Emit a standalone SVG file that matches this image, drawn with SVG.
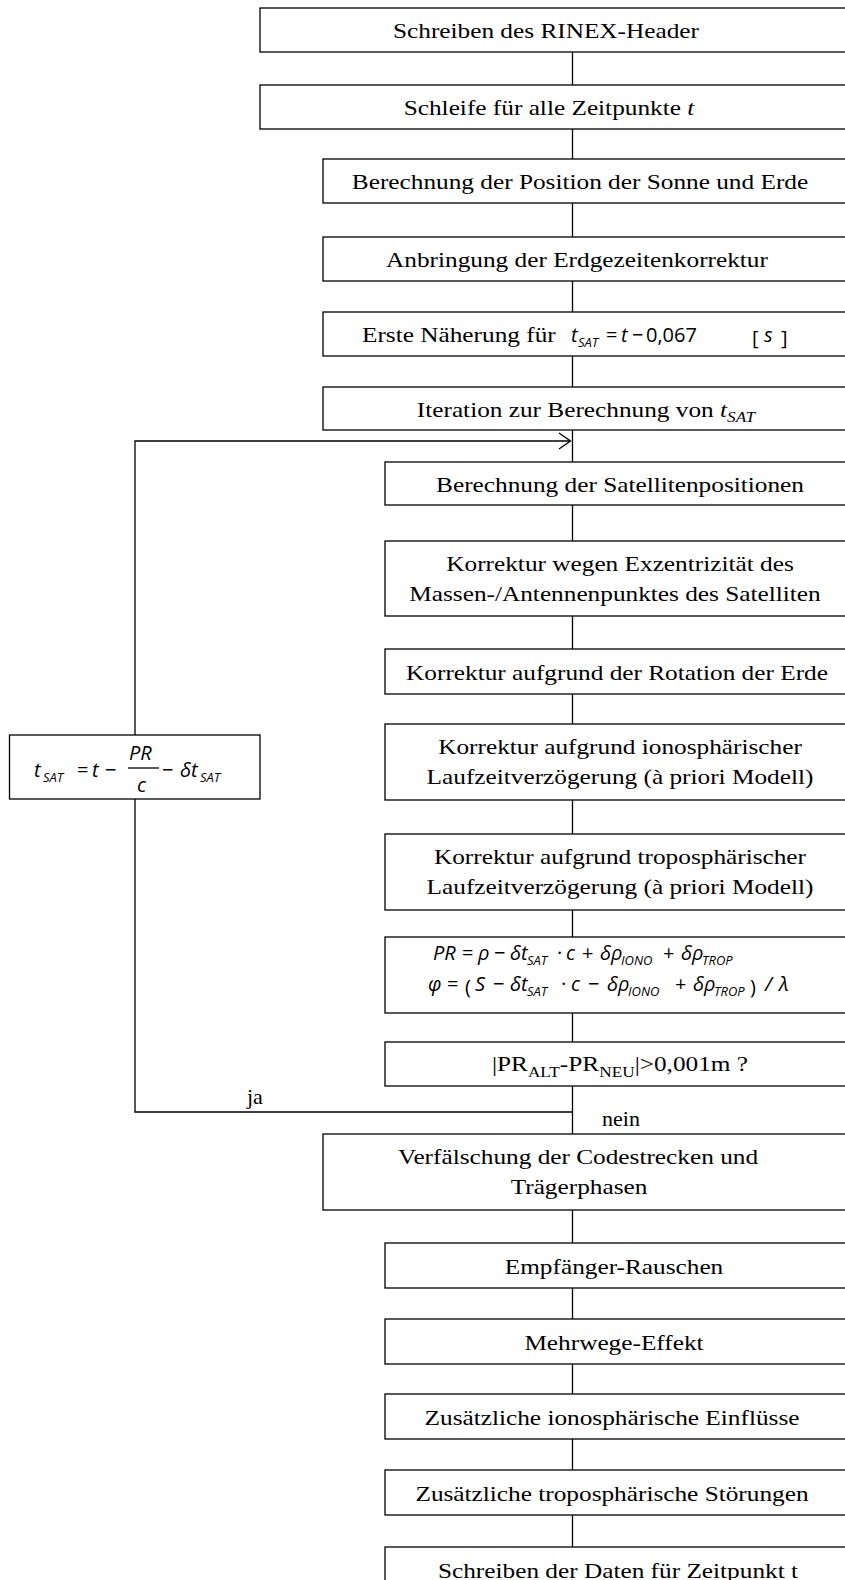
<svg xmlns="http://www.w3.org/2000/svg" width="845" height="1580" viewBox="0 0 845 1580">
  <style>
    .box { fill: #ffffff; stroke: #000000; stroke-width: 1.3; }
    .wire { fill: none; stroke: #000000; stroke-width: 1.3; }
    .lbl { font-family: "Liberation Serif", "Times New Roman", serif; font-size: 22px; fill: #000000; text-anchor: middle; }
    .lbl-s { font-family: "Liberation Serif", "Times New Roman", serif; font-size: 22px; fill: #000000; }
    .m { font-family: "Open Sans", "Noto Sans", "Liberation Sans", sans-serif; font-style: italic; font-size: 20px; fill: #000000; }
    .mu { font-family: "Open Sans", "Noto Sans", "Liberation Sans", sans-serif; font-size: 20px; fill: #000000; }
    .ms { font-family: "Open Sans", "Noto Sans", "Liberation Sans", sans-serif; font-style: italic; font-size: 13px; fill: #000000; }
  </style>

  <!-- connectors -->
  <g id="connectors">
    <path class="wire" d="M572.5,52V85 M572.5,129V159 M572.5,203V237 M572.5,281V312 M572.5,356V387 M572.5,430V462 M572.5,505V541 M572.5,616V649 M572.5,694V724 M572.5,800V834 M572.5,910V937 M572.5,1013V1042 M572.5,1086V1134 M572.5,1210V1243 M572.5,1288V1319 M572.5,1364V1394 M572.5,1439V1470 M572.5,1515V1547"/>
    <!-- iteration loop back ("ja") -->
    <path class="wire" d="M572.5,1112H135V799 M135,735V441H570"/>
    <polyline class="wire" points="559,433 570.5,441 559,449"/>
    <text class="lbl-s" x="247" y="1104">ja</text>
    <text class="lbl-s" x="602" y="1126">nein</text>
  </g>

  <g id="n01">
    <rect class="box" x="260" y="8" width="590" height="44"/>
    <text class="lbl" transform="translate(546,38) scale(1.15,1)">Schreiben des RINEX-Header</text>
  </g>
  <g id="n02">
    <rect class="box" x="260" y="85" width="590" height="44"/>
    <text class="lbl" transform="translate(549,115) scale(1.15,1)">Schleife für alle Zeitpunkte <tspan font-style="italic">t</tspan></text>
  </g>
  <g id="n03">
    <rect class="box" x="323" y="159" width="530" height="44"/>
    <text class="lbl" transform="translate(580,189) scale(1.15,1)">Berechnung der Position der Sonne und Erde</text>
  </g>
  <g id="n04">
    <rect class="box" x="323" y="237" width="530" height="44"/>
    <text class="lbl" transform="translate(577,267) scale(1.15,1)">Anbringung der Erdgezeitenkorrektur</text>
  </g>
  <g id="n05">
    <rect class="box" x="323" y="312" width="530" height="44"/>
    <text class="lbl-s" transform="translate(362,342) scale(1.15,1)">Erste Näherung für</text>
    <text class="m" x="571" y="342" font-size="21">t</text>
    <text class="ms" x="578" y="347">SAT</text>
    <text class="mu" x="606" y="342" font-size="21">=</text>
    <text class="m" x="621" y="342" font-size="21">t</text>
    <text class="mu" x="632" y="342" font-size="21">−</text>
    <text class="mu" x="646" y="342" font-size="21">0,067</text>
    <text class="mu" x="752" y="345" font-size="28">[</text>
    <text class="m" x="764" y="342" font-size="21">s</text>
    <text class="mu" x="781" y="345" font-size="28">]</text>
  </g>
  <g id="n06">
    <rect class="box" x="323" y="387" width="530" height="43"/>
    <text class="lbl" transform="translate(586,417) scale(1.15,1)">Iteration zur Berechnung von <tspan font-style="italic">t<tspan font-size="15" dy="5">SAT</tspan></tspan></text>
  </g>
  <g id="n07">
    <rect class="box" x="385" y="462" width="470" height="43"/>
    <text class="lbl" transform="translate(620,492) scale(1.15,1)">Berechnung der Satellitenpositionen</text>
  </g>
  <g id="n08">
    <rect class="box" x="385" y="541" width="470" height="75"/>
    <text class="lbl" transform="translate(620,571) scale(1.15,1)">Korrektur wegen Exzentrizität des</text>
    <text class="lbl" transform="translate(615,601) scale(1.15,1)">Massen-/Antennenpunktes des Satelliten</text>
  </g>
  <g id="n09">
    <rect class="box" x="385" y="649" width="470" height="45"/>
    <text class="lbl" transform="translate(617,680) scale(1.15,1)">Korrektur aufgrund der Rotation der Erde</text>
  </g>
  <g id="n10">
    <rect class="box" x="385" y="724" width="470" height="76"/>
    <text class="lbl" transform="translate(620,754) scale(1.15,1)">Korrektur aufgrund ionosphärischer</text>
    <text class="lbl" transform="translate(620,784) scale(1.15,1)">Laufzeitverzögerung (à priori Modell)</text>
  </g>
  <g id="n11">
    <rect class="box" x="385" y="834" width="470" height="76"/>
    <text class="lbl" transform="translate(620,864) scale(1.15,1)">Korrektur aufgrund troposphärischer</text>
    <text class="lbl" transform="translate(620,894) scale(1.15,1)">Laufzeitverzögerung (à priori Modell)</text>
  </g>
  <g id="n12">
    <rect class="box" x="385" y="937" width="470" height="76"/>
    <!-- PR = rho - dt_SAT c + drho_IONO + drho_TROP -->
    <text class="m" x="433" y="960">PR</text>
    <text class="mu" x="462" y="960">=</text>
    <text class="m" x="478" y="960">ρ</text>
    <text class="mu" x="494" y="960">−</text>
    <text class="m" x="510" y="960">δt</text>
    <text class="ms" x="527" y="965">SAT</text>
    <text class="mu" x="557" y="960">·</text>
    <text class="m" x="566" y="960">c</text>
    <text class="mu" x="582" y="960">+</text>
    <text class="m" x="600" y="960">δρ</text>
    <text class="ms" x="621" y="965">IONO</text>
    <text class="mu" x="663" y="960">+</text>
    <text class="m" x="681" y="960">δρ</text>
    <text class="ms" x="702" y="965">TROP</text>
    <!-- phi = (S - dt_SAT c - drho_IONO + drho_TROP) / lambda -->
    <text class="m" x="428" y="991">φ</text>
    <text class="mu" x="447" y="991">=</text>
    <text class="mu" x="465" y="994" font-size="26">(</text>
    <text class="m" x="475" y="991">S</text>
    <text class="mu" x="493" y="991">−</text>
    <text class="m" x="510" y="991">δt</text>
    <text class="ms" x="527" y="996">SAT</text>
    <text class="mu" x="561" y="991">·</text>
    <text class="m" x="571" y="991">c</text>
    <text class="mu" x="588" y="991">−</text>
    <text class="m" x="607" y="991">δρ</text>
    <text class="ms" x="628" y="996">IONO</text>
    <text class="mu" x="675" y="991">+</text>
    <text class="m" x="693" y="991">δρ</text>
    <text class="ms" x="714" y="996">TROP</text>
    <text class="mu" x="750" y="994" font-size="26">)</text>
    <text class="m" x="765" y="991">/</text>
    <text class="m" x="779" y="991">λ</text>
  </g>
  <g id="n13">
    <rect class="box" x="385" y="1042" width="470" height="44"/>
    <text class="lbl" transform="translate(620,1071) scale(1.15,1)">|PR<tspan font-size="15" dy="6">ALT</tspan><tspan dy="-6">-PR</tspan><tspan font-size="15" dy="6">NEU</tspan><tspan dy="-6">|&gt;0,001m ?</tspan></text>
  </g>
  <g id="n14">
    <rect class="box" x="323" y="1134" width="530" height="76"/>
    <text class="lbl" transform="translate(578,1164) scale(1.15,1)">Verfälschung der Codestrecken und</text>
    <text class="lbl" transform="translate(579,1194) scale(1.15,1)">Trägerphasen</text>
  </g>
  <g id="n15">
    <rect class="box" x="385" y="1243" width="470" height="45"/>
    <text class="lbl" transform="translate(614,1274) scale(1.15,1)">Empfänger-Rauschen</text>
  </g>
  <g id="n16">
    <rect class="box" x="385" y="1319" width="470" height="45"/>
    <text class="lbl" transform="translate(614,1350) scale(1.15,1)">Mehrwege-Effekt</text>
  </g>
  <g id="n17">
    <rect class="box" x="385" y="1394" width="470" height="45"/>
    <text class="lbl" transform="translate(612,1425) scale(1.15,1)">Zusätzliche ionosphärische Einflüsse</text>
  </g>
  <g id="n18">
    <rect class="box" x="385" y="1470" width="470" height="45"/>
    <text class="lbl" transform="translate(612,1501) scale(1.15,1)">Zusätzliche troposphärische Störungen</text>
  </g>
  <g id="n19">
    <rect class="box" x="385" y="1547" width="470" height="60"/>
    <text class="lbl" transform="translate(618,1578) scale(1.15,1)">Schreiben der Daten für Zeitpunkt t</text>
  </g>

  <g id="n20">
    <rect class="box" x="9.5" y="735" width="250.5" height="64"/>
    <text class="m" x="34" y="777" font-size="26">t</text>
    <text class="ms" x="43" y="782" font-size="15">SAT</text>
    <text class="mu" x="77" y="777" font-size="24">=</text>
    <text class="m" x="92" y="777" font-size="26">t</text>
    <text class="mu" x="105" y="777" font-size="24">−</text>
    <line class="wire" x1="128" y1="768" x2="159" y2="768"/>
    <text class="m" x="129" y="760" font-size="22">PR</text>
    <text class="m" x="137" y="792" font-size="22">c</text>
    <text class="mu" x="162" y="777" font-size="24">−</text>
    <text class="m" x="180" y="777" font-size="26">δt</text>
    <text class="ms" x="200" y="782" font-size="15">SAT</text>
  </g>
</svg>
